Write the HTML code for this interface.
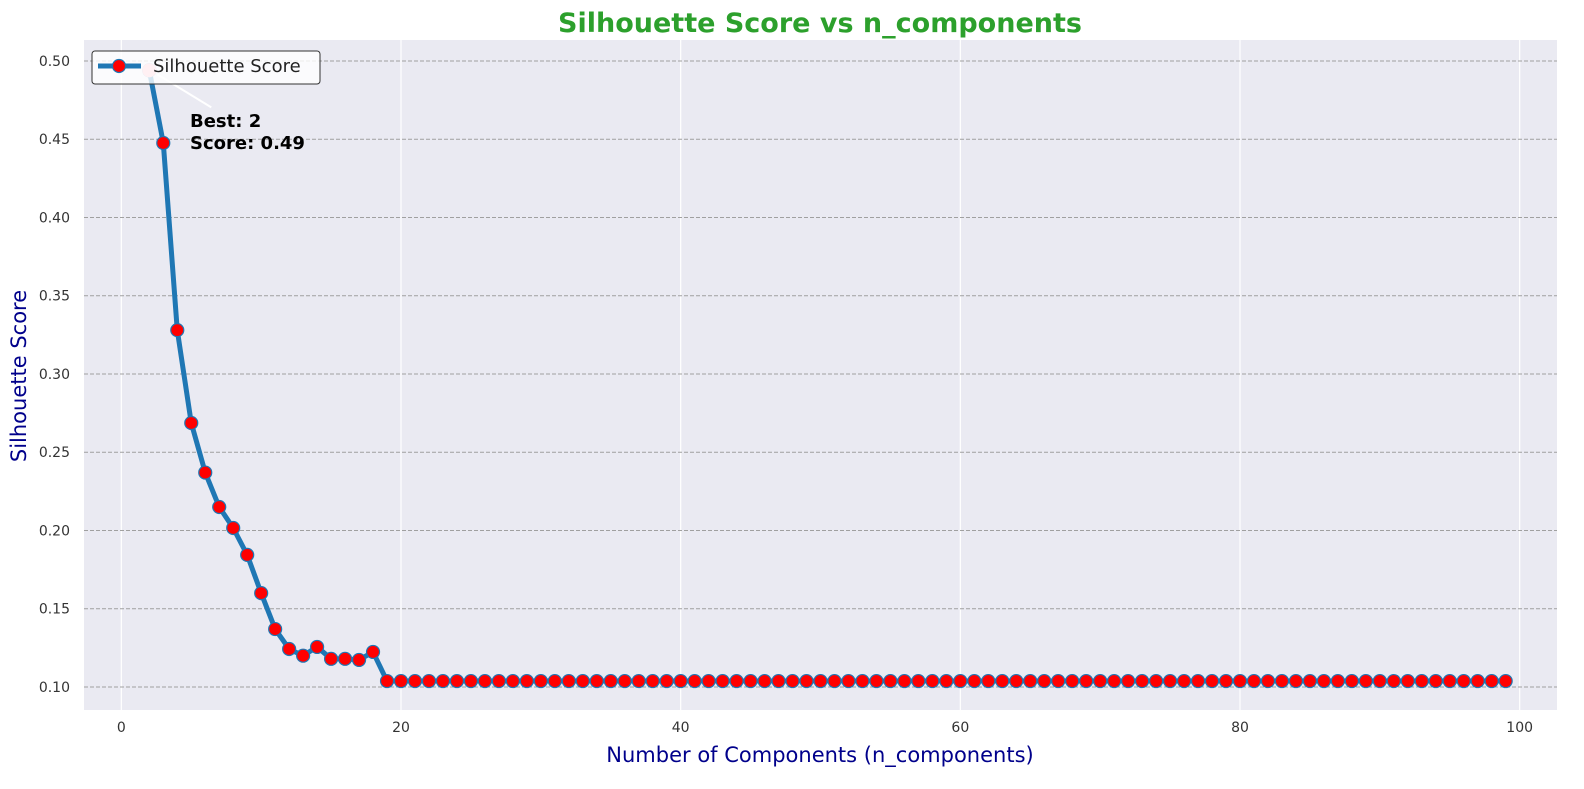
<!DOCTYPE html>
<html><head><meta charset="utf-8"><style>
body{margin:0;background:#fff;font-family:"Liberation Sans","DejaVu Sans",sans-serif;}
svg text{font-family:"DejaVu Sans","Liberation Sans",sans-serif;}
</style></head><body>
<svg id="chart" width="1584" height="784" xmlns="http://www.w3.org/2000/svg"></svg>
<script>
const xTicks=[0,20,40,60,80,100];
const yTicks=[0.10,0.15,0.20,0.25,0.30,0.35,0.40,0.45,0.50];
const nComponents=[];for(let i=2;i<=99;i++)nComponents.push(i);
const headScores=[0.494,0.4476,0.328,0.2687,0.237,0.215,0.2016,0.1844,0.160,0.137,0.1243,0.120,0.1256,0.118,0.118,0.1173,0.1224];
const tailScore=0.1038;
const scores=nComponents.map((n,i)=>i<headScores.length?headScores[i]:tailScore);
const best=2,bestScore=0.494;

const L=84,R=1557,T=40,B=710,xMin=-2.67,xMax=102.67,yMin=0.0853,yMax=0.5134;
const X=v=>L+(v-xMin)/(xMax-xMin)*(R-L);
const Y=v=>B-(v-yMin)/(yMax-yMin)*(B-T);
const svg=document.getElementById('chart');const NS='http://www.w3.org/2000/svg';
function el(t,a,txt){const e=document.createElementNS(NS,t);for(const k in a)e.setAttribute(k,a[k]);if(txt!==undefined)e.textContent=txt;svg.appendChild(e);return e;}
let e;
e=el('rect',{x:L,y:T,width:R-L,height:B-T,fill:'#eaeaf2'});


xTicks.forEach(t=>{
 e=el('line',{x1:X(t),x2:X(t),y1:T,y2:B,stroke:'#fff','stroke-width':1.2});
 
 
 e=el('text',{x:X(t),y:B+22,'text-anchor':'middle','font-size':14,fill:'#333'},t);
 
 
});
yTicks.forEach(t=>{
 e=el('line',{x1:L,x2:R,y1:Y(t),y2:Y(t),stroke:'#a0a0a0','stroke-width':1,'stroke-dasharray':'4,2'});
 
 
 e=el('text',{x:L-14,y:Y(t)+5,'text-anchor':'end','font-size':14,fill:'#333'},t.toFixed(2));
 
 
});
e=el('polyline',{points:nComponents.map((n,i)=>X(n)+','+Y(scores[i])).join(' '),fill:'none',stroke:'#1f77b4','stroke-width':5,'stroke-linejoin':'round'});


nComponents.forEach((n,i)=>{
 e=el('circle',{cx:X(n),cy:Y(scores[i]),r:6.5,fill:'#ff0000',stroke:'#1f77b4','stroke-width':1.2});
 
 
});
e=el('circle',{cx:X(best),cy:Y(bestScore),r:7,fill:'#ffb6c1'});


e=el('line',{x1:X(best)+8,y1:Y(bestScore)+4,x2:X(best)+62,y2:Y(bestScore)+37,stroke:'#fff','stroke-width':2});


e=el('text',{x:190,y:127,'font-size':18,'font-weight':'bold',fill:'#000'},'Best: '+best);


e=el('text',{x:190,y:149,'font-size':18,'font-weight':'bold',fill:'#000'},'Score: '+bestScore.toFixed(2));


e=el('rect',{x:92,y:51,width:228,height:33,rx:3,fill:'#fff','fill-opacity':0.8,stroke:'#333','stroke-width':1});


e=el('line',{x1:98,x2:141,y1:66,y2:66,stroke:'#1f77b4','stroke-width':5});


e=el('circle',{cx:119,cy:66,r:6.5,fill:'#ff0000',stroke:'#1f77b4','stroke-width':1.2});


e=el('text',{x:153,y:72,'font-size':18,fill:'#222'},'Silhouette Score');


e=el('text',{x:820,y:32,'text-anchor':'middle','font-size':27,'font-weight':'bold',fill:'#2ca02c'},'Silhouette Score vs n_components');


e=el('text',{x:820,y:762,'text-anchor':'middle','font-size':21,fill:'#00008b'},'Number of Components (n_components)');


e=el('text',{x:26,y:376,'text-anchor':'middle','font-size':21,fill:'#00008b',transform:'rotate(-90 26 376)'},'Silhouette Score');


</script>
</body></html>
